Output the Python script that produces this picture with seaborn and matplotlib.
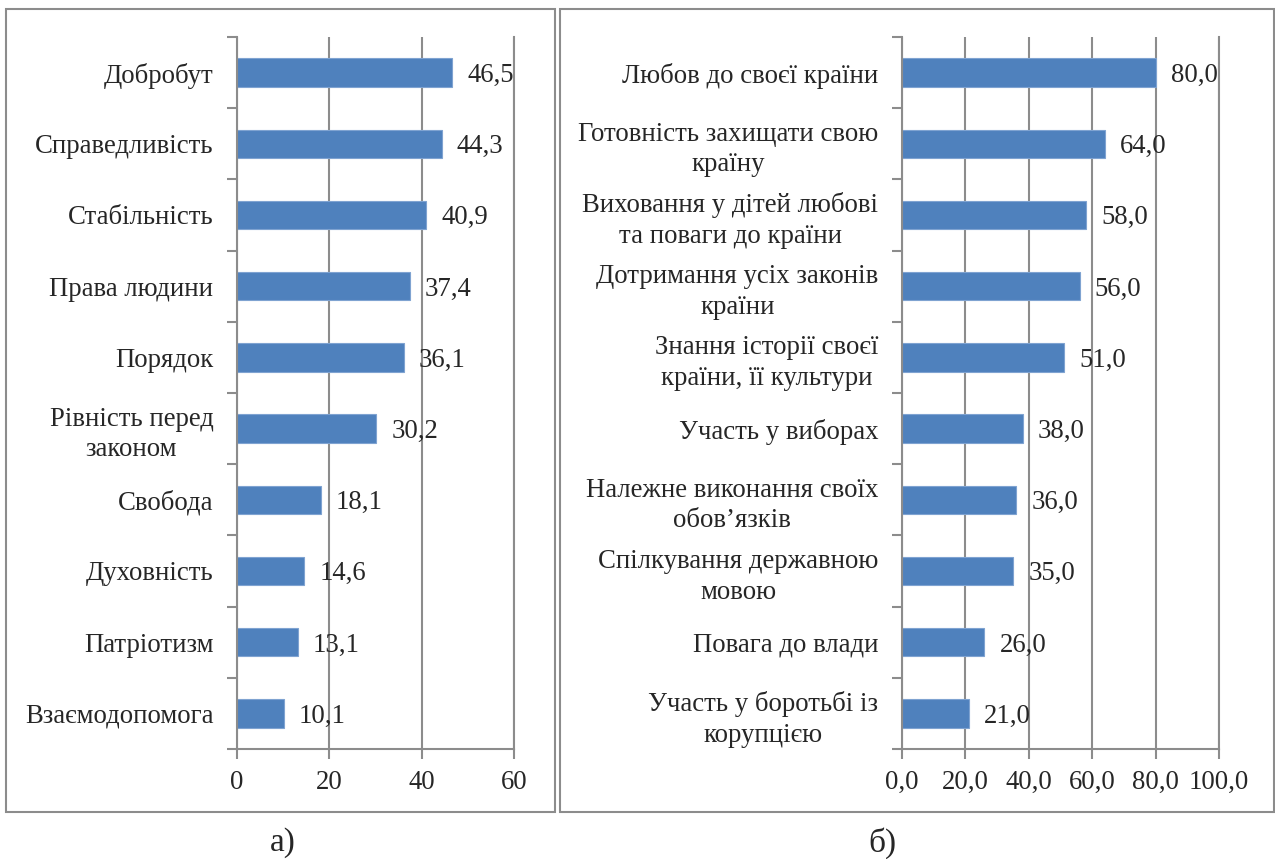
import numpy as np
import pandas as pd
import seaborn as sns
import matplotlib.pyplot as plt
from matplotlib.patches import Rectangle

# Panel a data
values_a_labels = ["Добробут", "Справедливість", "Стабільність", "Права людини", "Порядок",
                   "Рівність перед\nзаконом", "Свобода", "Духовність", "Патріотизм", "Взаємодопомога"]
values_a = [46.5, 44.3, 40.9, 37.4, 36.1, 30.2, 18.1, 14.6, 13.1, 10.1]
ticks_a = [0, 20, 40, 60]

# Panel b data
values_b_labels = ["Любов до своєї країни", "Готовність захищати свою\nкраїну",
                   "Виховання у дітей любові\nта поваги до країни", "Дотримання усіх законів\nкраїни",
                   "Знання історії своєї\nкраїни, її культури", "Участь у виборах",
                   "Належне виконання своїх\nобов’язків", "Спілкування державною\nмовою",
                   "Повага до влади", "Участь у боротьбі із\nкорупцією"]
values_b = [80.0, 64.0, 58.0, 56.0, 51.0, 38.0, 36.0, 35.0, 26.0, 21.0]
ticks_b = [0, 20, 40, 60, 80, 100]

sns.set_style("white")
plt.rcParams['font.family'] = ['Liberation Serif', 'DejaVu Serif']
plt.rcParams['font.size'] = 19.3

bar_color = "#4F81BD"
grid_color = "#8C8C8C"

fig = plt.figure(figsize=(12.75, 8.59), dpi=100)

# Frames around each panel
fig.patches.append(Rectangle((0.0047, 0.0547), 0.4306, 0.9348, transform=fig.transFigure,
                             fill=False, edgecolor=grid_color, linewidth=1.5))
fig.patches.append(Rectangle((0.4392, 0.0547), 0.5600, 0.9348, transform=fig.transFigure,
                             fill=False, edgecolor=grid_color, linewidth=1.5))

ax_a = fig.add_axes([0.1859, 0.1281, 0.2173, 0.8289])
ax_b = fig.add_axes([0.7075, 0.1281, 0.2486, 0.8289])


def draw_panel(ax, labels, values, ticks, fmt):
    df = pd.DataFrame({"label": labels, "value": values})
    sns.barplot(data=df, x="value", y="label", orient="h", color=bar_color,
                width=0.4, saturation=1, edgecolor="#7FA3D1", linewidth=0.8, ax=ax)
    ax.set_xlim(ticks[0], ticks[-1])
    ax.set_ylim(len(labels) - 0.5, -0.5)
    ax.set_xticks(ticks)
    ax.set_xticklabels([fmt(t) for t in ticks])
    ax.set_xlabel("")
    ax.set_ylabel("")
    ax.grid(axis="x", color=grid_color, linewidth=1.5)
    ax.set_axisbelow(True)
    ax.spines["top"].set_visible(False)
    for side in ["left", "bottom", "right"]:
        ax.spines[side].set_color(grid_color)
        ax.spines[side].set_linewidth(1.5)
    # category boundaries as tick marks on y axis
    ax.set_yticks(np.arange(-0.5, len(labels), 1.0), minor=True)
    ax.tick_params(axis="y", which="minor", length=7, width=1.5, color=grid_color, left=True)
    ax.tick_params(axis="y", which="major", length=0, pad=17)
    ax.tick_params(axis="x", which="major", length=7, width=1.5, color=grid_color, bottom=True, pad=8)
    for lbl in ax.get_yticklabels():
        lbl.set_multialignment("center")
        lbl.set_linespacing(1.3)
    for i, v in enumerate(values):
        ax.annotate(f"{v:.1f}".replace(".", ","), (v, i), xytext=(11, -2),
                    textcoords="offset points", ha="left", va="center")


draw_panel(ax_a, values_a_labels, values_a, ticks_a, lambda t: f"{t}")
draw_panel(ax_b, values_b_labels, values_b, ticks_b, lambda t: f"{t:.1f}".replace(".", ","))

fig.text(0.222, 0.019, "а)", ha="center", va="center", fontsize=24)
fig.text(0.6925, 0.019, "б)", ha="center", va="center", fontsize=24)

plt.savefig("out.png", dpi=100)
